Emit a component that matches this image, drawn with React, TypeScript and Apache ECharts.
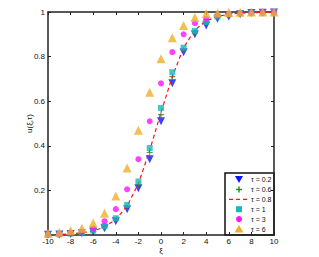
import React, { useEffect, useRef } from "react";
import * as echarts from "echarts";

const xi = [-10, -9, -8, -7, -6, -5, -4, -3, -2, -1, 0, 1, 2, 3, 4, 5, 6, 7, 8, 9, 10];
const tau02 = [0.001, 0.002, 0.004, 0.008, 0.015, 0.03, 0.062, 0.115, 0.21, 0.34, 0.51, 0.68, 0.82, 0.9, 0.94, 0.97, 0.98, 0.99, 0.995, 0.997, 0.998];
const tau06 = [0.001, 0.002, 0.005, 0.009, 0.017, 0.034, 0.067, 0.125, 0.225, 0.37, 0.54, 0.71, 0.83, 0.91, 0.955, 0.977, 0.988, 0.994, 0.997, 0.998, 0.999];
const tau08 = [0.001, 0.002, 0.005, 0.01, 0.018, 0.036, 0.07, 0.13, 0.23, 0.38, 0.55, 0.71, 0.84, 0.92, 0.96, 0.98, 0.99, 0.995, 0.997, 0.998, 0.999];
const tau1 = [0.002, 0.003, 0.006, 0.011, 0.02, 0.04, 0.075, 0.135, 0.24, 0.39, 0.57, 0.73, 0.84, 0.915, 0.955, 0.98, 0.99, 0.995, 0.997, 0.998, 0.999];
const tau3 = [0.002, 0.004, 0.008, 0.015, 0.03, 0.062, 0.116, 0.205, 0.34, 0.51, 0.68, 0.82, 0.9, 0.95, 0.97, 0.985, 0.99, 0.995, 0.997, 0.998, 0.999];
const tau6 = [0.008, 0.012, 0.02, 0.03, 0.054, 0.098, 0.175, 0.3, 0.47, 0.64, 0.79, 0.885, 0.94, 0.975, 0.993, 0.996, 0.998, 0.999, 1, 1, 1];
const seriesNames = ["τ = 0.2", "τ = 0.6", "τ = 0.8", "τ = 1", "τ = 3", "τ = 6"];

const colors = ["#0a14ff", "#1e8a1e", "#ff1010", "#19b8b8", "#ff10ff", "#efb027"];

const pair = (ys: number[]) => xi.map((x, i) => [x, ys[i]]);
const plusPath = "path://M4,0H6V4H10V6H6V10H4V6H0V4H4Z";

export default function App() {
  const ref = useRef<HTMLDivElement>(null);
  useEffect(() => {
    if (!ref.current) return;
    const chart = echarts.init(ref.current, null, { renderer: "svg", width: 319, height: 257 });
    const font = "Liberation Sans, Arial, sans-serif";
    const axisLine = { show: true, onZero: false, lineStyle: { color: "#222", width: 1.5 } };
    const tickStyle = { show: true, inside: true, length: 3, lineStyle: { color: "#222", width: 1 } };
    const label = { color: "#111", fontSize: 8, fontFamily: font };

    const lx = 225, ly = 173, lw = 49, lh = 62;
    const mx = 239, tx = 251;
    const rowY = (i: number) => ly + 6.5 + i * 9.9;
    const legendChildren: any[] = [
      { type: "rect", shape: { x: lx, y: ly, width: lw, height: lh }, style: { fill: "#fff", stroke: "#111", lineWidth: 1.5 } },
      { type: "polygon", shape: { points: [[mx - 4, rowY(0) - 3.5], [mx + 4, rowY(0) - 3.5], [mx, rowY(0) + 3.5]] }, style: { fill: colors[0] } },
      { type: "rect", shape: { x: mx - 3, y: rowY(1) - 0.6, width: 6, height: 1.4 }, style: { fill: colors[1] } },
      { type: "rect", shape: { x: mx - 0.7, y: rowY(1) - 3, width: 1.4, height: 6 }, style: { fill: colors[1] } },
      { type: "line", shape: { x1: 229, y1: rowY(2), x2: 250, y2: rowY(2) }, style: { stroke: colors[2], lineWidth: 1.2, lineDash: [4, 3] } },
      { type: "rect", shape: { x: mx - 3, y: rowY(3) - 3, width: 6, height: 6 }, style: { fill: colors[3] } },
      { type: "circle", shape: { cx: mx, cy: rowY(4), r: 3 }, style: { fill: colors[4] } },
      { type: "polygon", shape: { points: [[mx - 4.5, rowY(5) + 3.5], [mx + 4.5, rowY(5) + 3.5], [mx, rowY(5) - 4]] }, style: { fill: colors[5] } },
    ];
    seriesNames.forEach((n, i) => {
      legendChildren.push({
        type: "text", x: tx, y: rowY(i),
        style: { text: n, fontSize: 7, fontFamily: font, fill: "#111", verticalAlign: "middle", align: "left" },
      });
    });

    chart.setOption({
      animation: false,
      backgroundColor: "#fff",
      grid: { left: 48, right: 45, top: 12, bottom: 22, containLabel: false, outerBoundsMode: "none" },
      xAxis: [
        {
          type: "value", min: -10, max: 10, interval: 2, position: "bottom",
          axisLine, axisTick: tickStyle, splitLine: { show: false },
          axisLabel: { ...label, margin: 2 },
          name: "ξ", nameLocation: "middle", nameGap: 11, nameMoveOverlap: false,
          nameTextStyle: { fontSize: 8, fontFamily: font, color: "#111" },
        },
        {
          type: "value", min: -10, max: 10, interval: 2, position: "top",
          axisLine, axisTick: tickStyle, splitLine: { show: false }, axisLabel: { show: false },
        },
      ],
      yAxis: [
        {
          type: "value", min: 0, max: 1, interval: 0.2, position: "left",
          axisLine, axisTick: tickStyle, splitLine: { show: false },
          axisLabel: { ...label, margin: 3, formatter: (v: number) => (v === 0 ? "" : String(+v.toFixed(1))) },
          name: "u(ξ,τ)", nameLocation: "middle", nameGap: 15, nameRotate: 90, nameMoveOverlap: false,
          nameTextStyle: { fontSize: 8, fontFamily: font, color: "#111" },
        },
        {
          type: "value", min: 0, max: 1, interval: 0.2, position: "right",
          axisLine, axisTick: tickStyle, splitLine: { show: false }, axisLabel: { show: false },
        },
      ],
      series: [
        { name: seriesNames[0], type: "scatter", data: pair(tau02), symbol: "triangle", symbolRotate: 180, symbolSize: 8, itemStyle: { color: colors[0] }, z: 2 },
        { name: seriesNames[1], type: "scatter", data: pair(tau06), symbol: plusPath, symbolSize: 6, itemStyle: { color: colors[1] }, z: 3 },
        { name: seriesNames[2], type: "line", data: pair(tau08), symbol: "none", showSymbol: false, lineStyle: { color: colors[2], width: 1.2, type: [4, 3] }, itemStyle: { color: colors[2] }, z: 4 },
        { name: seriesNames[3], type: "scatter", data: pair(tau1), symbol: "rect", symbolSize: 6, itemStyle: { color: colors[3] }, z: 5 },
        { name: seriesNames[4], type: "scatter", data: pair(tau3), symbol: "circle", symbolSize: 6, itemStyle: { color: colors[4] }, z: 6 },
        { name: seriesNames[5], type: "scatter", data: pair(tau6), symbol: "triangle", symbolSize: 9, itemStyle: { color: colors[5] }, z: 7 },
      ],
      graphic: [{ type: "group", z: 100, children: legendChildren }],
    });
    return () => chart.dispose();
  }, []);
  return <div ref={ref} style={{ width: 319, height: 257, position: "absolute", left: 0, top: 0 }} />;
}
